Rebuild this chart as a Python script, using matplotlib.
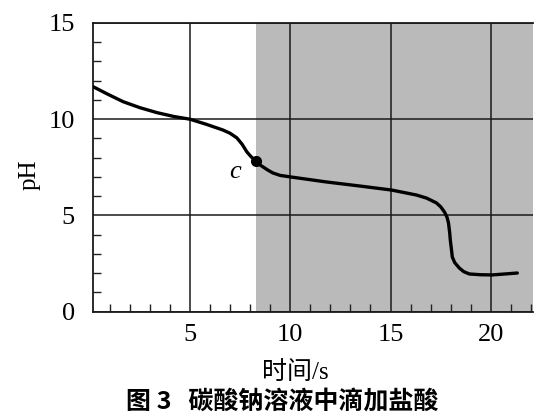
import matplotlib
matplotlib.use('Agg')
import matplotlib.pyplot as plt
from matplotlib.ticker import MultipleLocator

# values
time_s = [0.17, 0.9, 1.67, 2.5, 3.36, 4.2, 5.0, 5.8, 6.64, 7.0, 7.34, 7.6,
          7.84, 8.05, 8.27, 8.5, 8.88, 9.13, 9.5, 10.02, 11.8, 13.46, 15.05,
          16.3, 16.8, 17.29, 17.5, 17.69, 17.82, 17.89, 17.95, 17.98, 18.03,
          18.08, 18.2, 18.43, 18.65, 18.93, 19.5, 20.07, 20.7, 21.32]
ph = [11.69, 11.3, 10.91, 10.6, 10.34, 10.14, 10.0, 9.74, 9.44, 9.27, 9.03,
      8.7, 8.30, 8.05, 7.84, 7.62, 7.36, 7.21, 7.08, 7.0, 6.74, 6.53, 6.32,
      6.06, 5.9, 5.65, 5.45, 5.18, 4.9, 4.61, 4.1, 3.72, 3.3,
      2.84, 2.55, 2.27, 2.08, 1.96, 1.92, 1.91, 1.96, 2.01]
point_c = (8.27, 7.84)
shade_start = 8.27
x_ticks = [5, 10, 15, 20]
y_ticks = [0, 5, 10, 15]

serif = 'Liberation Serif'
cjk = ['Liberation Serif', 'Noto Sans CJK SC']

fig = plt.figure(figsize=(5.59, 4.17), dpi=100)
ax = fig.add_axes([0.1664, 0.2525, 0.787, 0.6925])

ax.set_xlim(0.17, 22.1)
ax.set_ylim(0, 15)

# shaded part of the plot (after point c)
ax.axvspan(shade_start, 22.1, color='#bababa', zorder=0, lw=0)

ax.set_xticks(x_ticks)
ax.set_yticks(y_ticks)
ax.xaxis.set_minor_locator(MultipleLocator(1))
ax.yaxis.set_minor_locator(MultipleLocator(1))
ax.tick_params(which='major', length=0, labelsize=19, pad=9)
ax.tick_params(axis='y', which='major', pad=13)
ax.tick_params(which='minor', direction='in', length=6, width=1.0, color='#222222')
for lab in ax.get_xticklabels() + ax.get_yticklabels():
    lab.set_fontfamily(serif)

ax.grid(True, which='major', color='#1a1a1a', linewidth=1.1, zorder=1)
ax.set_axisbelow(False)

for side in ['left', 'bottom', 'top']:
    ax.spines[side].set_linewidth(1.3)
    ax.spines[side].set_color('#1a1a1a')
ax.spines['right'].set_visible(False)

ax.plot(time_s, ph, color='black', linewidth=2.4, solid_capstyle='round',
        solid_joinstyle='round', zorder=3)
ax.plot(*point_c, 'o', color='black', markersize=7, zorder=4)
ax.text(7.24, 7.26, 'c', fontsize=19, fontstyle='italic', family=serif,
        ha='center', va='center')

ax.set_ylabel('pH', fontsize=18, family=serif)
ax.yaxis.set_label_coords(-0.12, 0.474)
ax.set_xlabel('时间/s', fontsize=18, family=cjk)
ax.xaxis.set_label_coords(0.46, -0.17)

fig.text(0.505, 0.008, '图 3   碳酸钠溶液中滴加盐酸', fontsize=18,
         family='Noto Sans CJK SC', fontweight='bold', ha='center', va='bottom')

fig.savefig('out.png', dpi=100)
